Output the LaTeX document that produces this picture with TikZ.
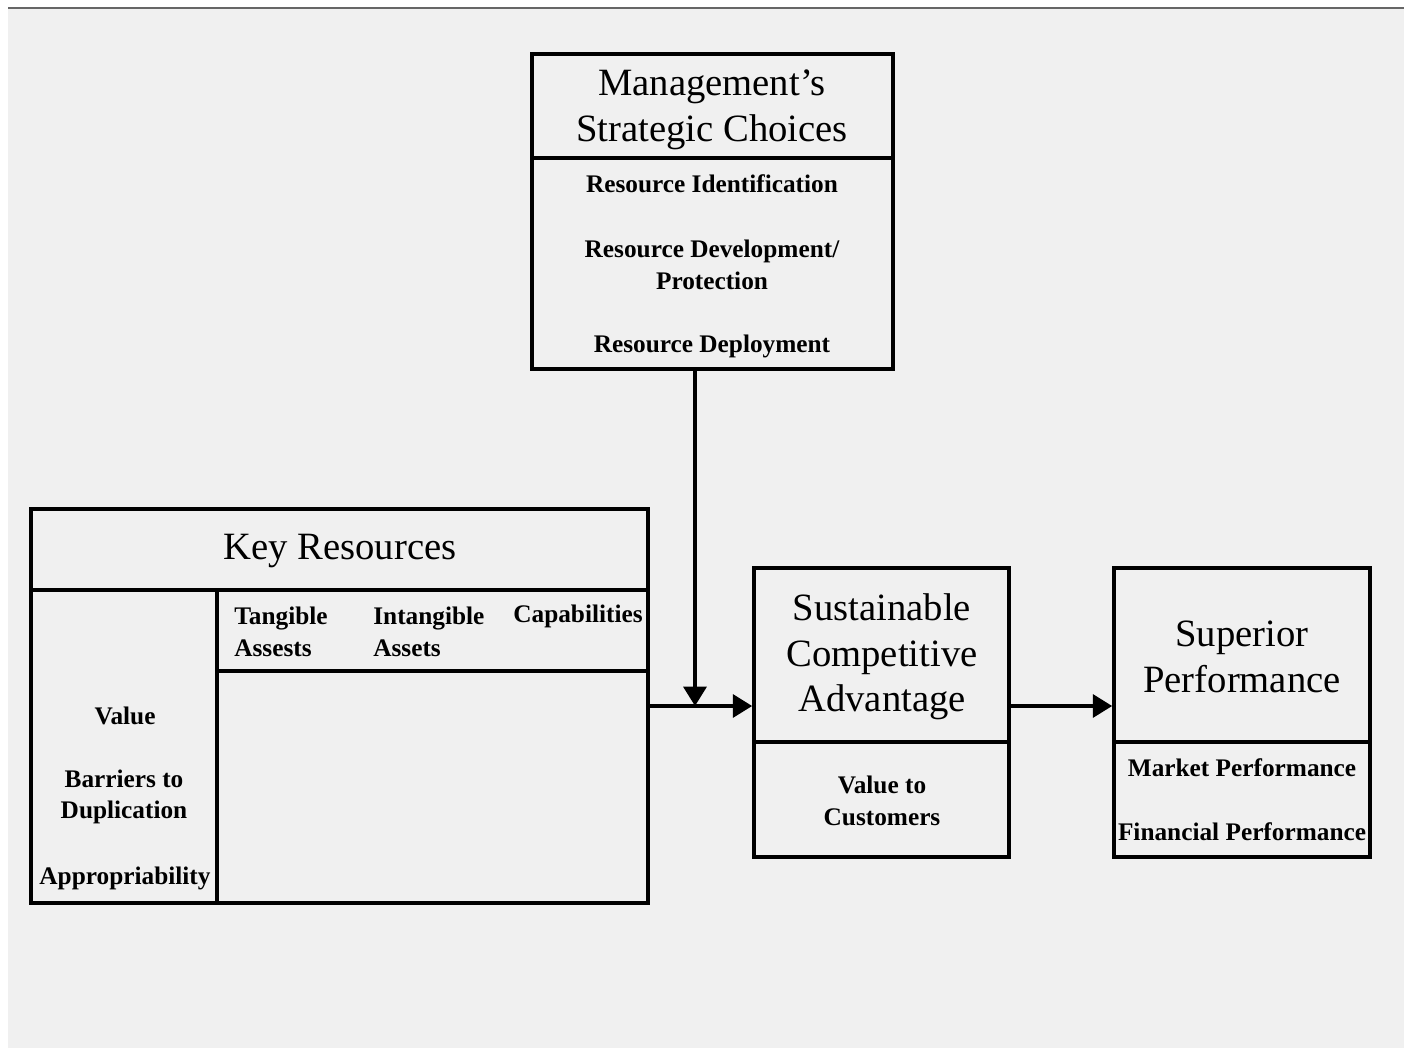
\documentclass[tikz,border=0pt]{standalone}
\usepackage{fontspec}
\setmainfont{Liberation Serif}
\usetikzlibrary{arrows.meta}

\tikzset{
  box/.style={draw, line width=2.1pt, inner sep=0pt},
  rule/.style={line width=2.1pt},
  arr/.style={line width=2.1pt, -{Triangle[length=11pt,width=13pt]}},
  big/.style={font=\fontsize{22}{26}\selectfont, align=center, inner sep=0pt},
  small/.style={font=\bfseries\fontsize{14.4}{18}\selectfont, align=center, inner sep=0pt},
}

\begin{document}
\begin{tikzpicture}[x=0.02cm,y=-0.02cm]
  % Fondo
  \useasboundingbox (0,0) rectangle (1408,1050);
  \fill[black!6] (8,8) rectangle (1404,1048);
  \draw[black!60, line width=0.8pt] (8,8) -- (1404,8);

  % Management's Strategic Choices
  \node[box, minimum width=7.22cm, minimum height=6.3cm] (mgmt) at (712.5,211.5) {};
  \coordinate (mgmtcut) at (0,158);
  \draw[rule] (mgmt.west |- mgmtcut) -- (mgmt.east |- mgmtcut);
  \node[big] (mgmttitle) at (712,110) {Management's\\Strategic Choices};
  \node[small] (ident) at (712,184) {Resource Identification};
  \node[small] (devel) at (712,265) {Resource Development/\\Protection};
  \node[small] (deploy) at (712,346) {Resource Deployment};

  % Key Resources
  \node[box, minimum width=12.34cm, minimum height=7.88cm] (kr) at (339.5,706) {};
  \coordinate (krcut) at (217,590);
  \coordinate (krsub) at (217,671);
  \draw[rule] (kr.west |- krcut) -- (kr.east |- krcut);
  \draw[rule] (krcut) -- (krcut |- kr.south);
  \draw[rule] (krsub) -- (kr.east |- krsub);
  \node[big] (krtitle) at (340,551) {Key Resources};
  \node[small, align=left, anchor=west] (tang) at (234,632) {Tangible\\Assests};
  \node[small, align=left, anchor=west] (intang) at (373,632) {Intangible\\Assets};
  \node[small, anchor=west] (capab) at (513,616) {Capabilities};
  \node[small] (value) at (125,716) {Value};
  \node[small] (barriers) at (124,797) {Barriers to\\Duplication};
  \node[small] (approp) at (125,878) {Appropriability};

  % Sustainable Competitive Advantage
  \node[box, minimum width=5.1cm, minimum height=5.78cm] (sca) at (881.5,712.5) {};
  \coordinate (scacut) at (0,742);
  \draw[rule] (sca.west |- scacut) -- (sca.east |- scacut);
  \node[big] (scatitle) at (882,657) {Sustainable\\Competitive\\Advantage};
  \node[small] (custval) at (882,801) {Value to\\Customers};

  % Superior Performance
  \node[box, minimum width=5.12cm, minimum height=5.78cm] (sp) at (1242,712.5) {};
  \draw[rule] (sp.west |- scacut) -- (sp.east |- scacut);
  \node[big] (sptitle) at (1242,657) {Superior\\Performance};
  \node[small] (market) at (1242,768) {Market Performance};
  \node[small] (financial) at (1242,832) {Financial Performance};

  % Flechas
  \coordinate (join) at (695,706);
  \draw[arr] (mgmt.south -| join) -- (join);
  \draw[arr] (kr.east |- join) -- (sca.west |- join);
  \draw[arr] (sca.east |- join) -- (sp.west |- join);
\end{tikzpicture}
\end{document}
